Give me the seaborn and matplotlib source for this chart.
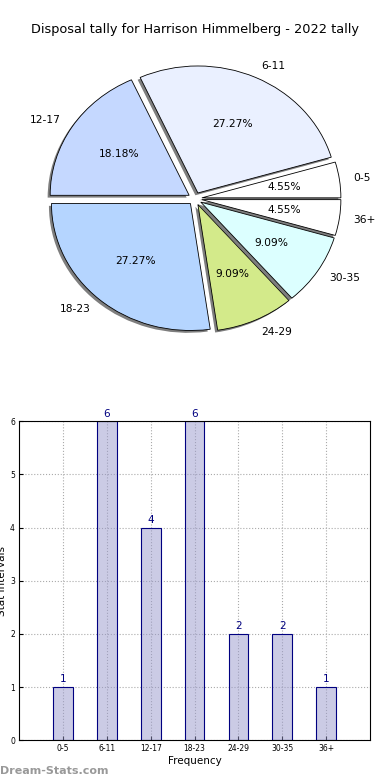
import matplotlib
matplotlib.use("Agg")
import matplotlib.pyplot as plt
import seaborn as sns
import pandas as pd

categories = ["0-5", "6-11", "12-17", "18-23", "24-29", "30-35", "36+"]
counts = [1, 6, 4, 6, 2, 2, 1]
pie_order = ["0-5", "6-11", "12-17", "18-23", "24-29", "30-35", "36+"]
pie_colors = ["#ffffff", "#eaf0ff", "#c5d8ff", "#b5d5ff", "#d3ea8a", "#dcffff", "#ffffff"]
title = "Disposal tally for Harrison Himmelberg - 2022 tally"

sns.set_style("white")
plt.rcParams["font.family"] = ["DejaVu Sans"]
plt.rcParams["text.color"] = "black"
plt.rcParams["axes.labelcolor"] = "black"
plt.rcParams["xtick.color"] = "black"
plt.rcParams["ytick.color"] = "black"

fig = plt.figure(figsize=(3.9, 7.8), dpi=100)

# Pie
ax1 = fig.add_axes([0.0545, 0.5417, 0.891, 0.407])
wedges, texts, autotexts = ax1.pie(
    counts, labels=pie_order, colors=pie_colors, explode=[0.05] * len(counts),
    autopct="%.2f%%", startangle=0, counterclock=True,
    shadow=dict(ox=-0.013, oy=-0.013, facecolor="#707070", edgecolor="none", alpha=0.9),
    wedgeprops=dict(edgecolor="black", linewidth=0.6),
    textprops=dict(fontsize=7.7, color="black"))
ax1.set_aspect("auto")
ax1.set_xlim(-1.25, 1.25)
ax1.set_ylim(-1.25, 1.25)
fig.text(0.5, 0.962, title, ha="center", va="center", fontsize=9.3, color="black")

# Bar
ax2 = fig.add_axes([0.049, 0.051, 0.9, 0.409])
df = pd.DataFrame({"cat": categories, "n": counts})
sns.barplot(data=df, x="cat", y="n", order=categories, ax=ax2,
            color="#9999cc", edgecolor="#000080", linewidth=0.8, width=0.45,
            saturation=1, zorder=2)
for p in ax2.patches:
    p.set_facecolor((0.6, 0.6, 0.8, 0.5))
for i, v in enumerate(counts):
    ax2.text(i, v + 0.05, str(v), ha="center", va="bottom", color="#000080", fontsize=7.5)
ax2.set_xlim(-1, 7)
ax2.set_ylim(0, 6)
ax2.set_yticks(range(0, 7))
ax2.grid(True, linestyle=":", color="#aaaaaa", linewidth=0.8, zorder=0)
ax2.set_axisbelow(True)
for s in ax2.spines.values():
    s.set_visible(True)
    s.set_color("black")
    s.set_linewidth(0.8)
ax2.tick_params(axis="both", direction="in", labelsize=5.5, length=3, pad=3,
                left=True, bottom=True)
ax2.set_xlabel("Frequency", fontsize=7.5, labelpad=2)
ax2.set_ylabel("Stat Intervals", fontsize=7.5, labelpad=2)

fig.text(0.0, 0.012, "Dream-Stats.com", ha="left", va="center", fontsize=8,
         color="#999999", fontweight="bold")

fig.savefig("out.png", dpi=100)
